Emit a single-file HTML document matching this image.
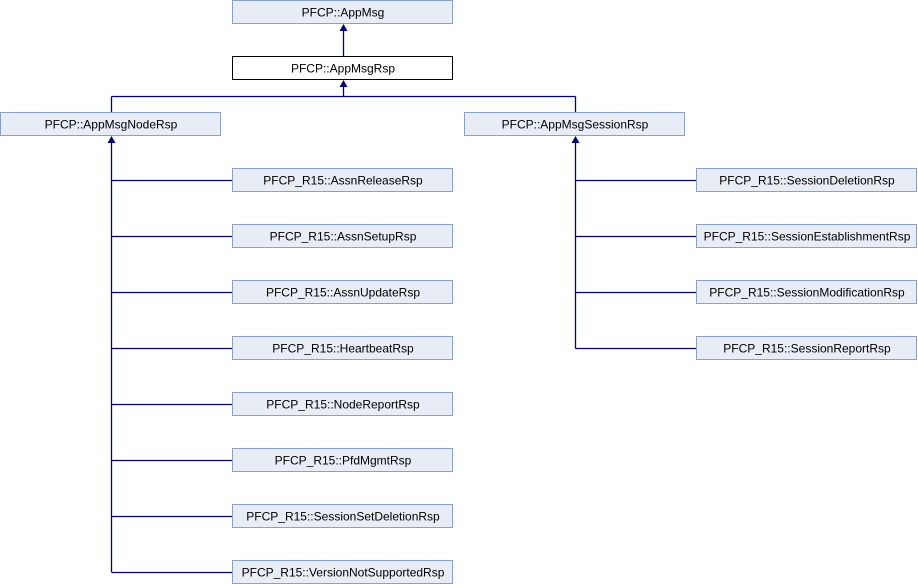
<!DOCTYPE html>
<html><head><meta charset="utf-8"><style>
html,body{margin:0;padding:0;background:#fff}
svg{display:block}
text{font-family:"Liberation Sans",sans-serif;font-size:12px;fill:#000;text-anchor:middle}
.b{fill:#e8ecf5;stroke:#8aa0cc;stroke-width:1}
.w{fill:#fff;stroke:#000;stroke-width:1}
.l{stroke:#000080;stroke-width:1.3;fill:none}
.a{fill:#000080}
</style></head><body>
<svg width="918" height="584" viewBox="0 0 918 584">
<path class="l" d="M343.5 30 V56 M343.5 86 V96.5 M111.5 96.5 H575.5 M111.5 96.5 V112 M575.5 96.5 V112"/>
<path class="l" d="M111.5 142 V572"/>
<path class="l" d="M111.5 180.5 H232 M111.5 236.5 H232 M111.5 292.5 H232 M111.5 348.5 H232 M111.5 404.5 H232 M111.5 460.5 H232 M111.5 516.5 H232 M111.5 572.5 H232"/>
<path class="l" d="M575.5 142 V348.5 M575.5 180.5 H696 M575.5 236.5 H696 M575.5 292.5 H696 M575.5 348.5 H696"/>
<polygon class="a" points="343.5,24 339.5,31 347.5,31"/>
<polygon class="a" points="343.5,80 339.5,87 347.5,87"/>
<polygon class="a" points="111.5,136 107.5,143 115.5,143"/>
<polygon class="a" points="575.5,136 571.5,143 579.5,143"/>
<rect class="b" x="232.5" y="0.5" width="220" height="23"/><text x="343" y="16.6">PFCP::AppMsg</text>
<rect class="w" x="232.5" y="56.5" width="220" height="23"/><text x="343" y="72.6">PFCP::AppMsgRsp</text>
<rect class="b" x="0.5" y="112.5" width="220" height="23"/><text x="111" y="128.6">PFCP::AppMsgNodeRsp</text>
<rect class="b" x="464.5" y="112.5" width="220" height="23"/><text x="575" y="128.6">PFCP::AppMsgSessionRsp</text>
<rect class="b" x="232.5" y="168.5" width="220" height="23"/><text x="343" y="184.6">PFCP_R15::AssnReleaseRsp</text>
<rect class="b" x="232.5" y="224.5" width="220" height="23"/><text x="343" y="240.6">PFCP_R15::AssnSetupRsp</text>
<rect class="b" x="232.5" y="280.5" width="220" height="23"/><text x="343" y="296.6">PFCP_R15::AssnUpdateRsp</text>
<rect class="b" x="232.5" y="336.5" width="220" height="23"/><text x="343" y="352.6">PFCP_R15::HeartbeatRsp</text>
<rect class="b" x="232.5" y="392.5" width="220" height="23"/><text x="343" y="408.6">PFCP_R15::NodeReportRsp</text>
<rect class="b" x="232.5" y="448.5" width="220" height="23"/><text x="343" y="464.6">PFCP_R15::PfdMgmtRsp</text>
<rect class="b" x="232.5" y="504.5" width="220" height="23"/><text x="343" y="520.6">PFCP_R15::SessionSetDeletionRsp</text>
<rect class="b" x="232.5" y="560.5" width="220" height="23"/><text x="343" y="576.6">PFCP_R15::VersionNotSupportedRsp</text>
<rect class="b" x="696.5" y="168.5" width="220" height="23"/><text x="807" y="184.6">PFCP_R15::SessionDeletionRsp</text>
<rect class="b" x="696.5" y="224.5" width="220" height="23"/><text x="807" y="240.6">PFCP_R15::SessionEstablishmentRsp</text>
<rect class="b" x="696.5" y="280.5" width="220" height="23"/><text x="807" y="296.6">PFCP_R15::SessionModificationRsp</text>
<rect class="b" x="696.5" y="336.5" width="220" height="23"/><text x="807" y="352.6">PFCP_R15::SessionReportRsp</text>
</svg>
</body></html>
